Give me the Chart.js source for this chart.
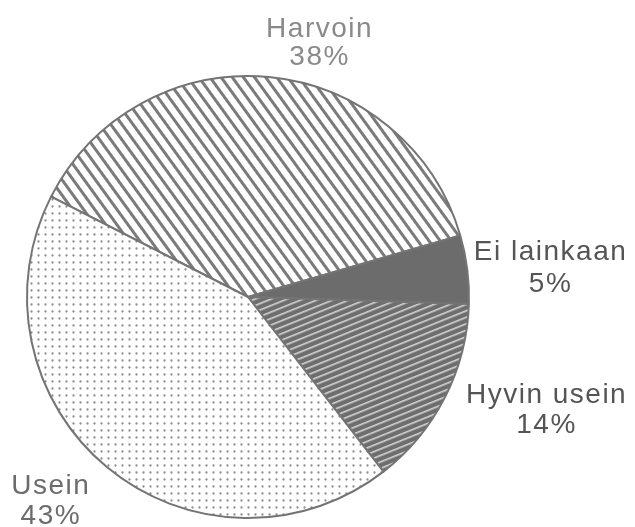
<!DOCTYPE html>
<html>
<head>
<meta charset="utf-8">
<script src="https://cdn.jsdelivr.net/npm/chart.js@4"></script>
<style>
html,body{margin:0;padding:0;background:#fff;}
canvas{display:block;}
</style>
</head>
<body>
<canvas id="c" width="635" height="527"></canvas>
<script>
// ---- data ----
const categories = ['Harvoin', 'Ei lainkaan', 'Hyvin usein', 'Usein'];
const values = [38, 5, 14, 43];
const percentLabels = ['38%', '5%', '14%', '43%'];

// ---- label layout (block centre relative to pie centre, in radius units) ----
const labelOffsets = [
  { dx: 0.324, dy: -1.150 },
  { dx: 1.369, dy: -0.131 },
  { dx: 1.351, dy: 0.514 },
  { dx: -0.892, dy: 0.923 }
];
const labelGaps = [14, 16, 15, 15];
const labelColors = ['#8a8a8a', '#555555', '#555555', '#6c6c6c'];

// ---- patterns ----
function stripePattern(bg, fg, period, lineW, angleDeg) {
  const t = document.createElement('canvas');
  t.width = 16; t.height = period;
  const g = t.getContext('2d');
  g.fillStyle = bg; g.fillRect(0, 0, t.width, t.height);
  g.fillStyle = fg; g.fillRect(0, 0, t.width, lineW);
  const p = document.getElementById('c').getContext('2d').createPattern(t, 'repeat');
  const a = angleDeg * Math.PI / 180;
  p.setTransform(new DOMMatrix([Math.cos(a), Math.sin(a), -Math.sin(a), Math.cos(a), 0, 0]));
  return p;
}
function dotPattern(bg, fg, step, size) {
  const t = document.createElement('canvas');
  t.width = step; t.height = step;
  const g = t.getContext('2d');
  g.fillStyle = bg; g.fillRect(0, 0, step, step);
  g.fillStyle = fg;
  g.beginPath(); g.arc(step / 2, step / 2, size, 0, Math.PI * 2); g.fill();
  return document.getElementById('c').getContext('2d').createPattern(t, 'repeat');
}

const fills = [
  stripePattern('#ffffff', '#7a7a7a', 9, 3, 54),
  '#6c6c6c',
  stripePattern('#6e6e6e', '#d4d4d4', 6, 1.6, -22),
  dotPattern('#ffffff', '#8c8c8c', 7, 1.15)
];

const labelPlugin = {
  id: 'sliceLabels',
  afterDraw(chart) {
    const arc = chart.getDatasetMeta(0).data[0];
    const cx = arc.x, cy = arc.y, r = arc.outerRadius;
    const ctx = chart.ctx;
    ctx.save();
    ctx.font = '28px "Liberation Sans", Arial, sans-serif';
    ctx.textAlign = 'center';
    ctx.textBaseline = 'middle';
    if ('letterSpacing' in ctx) ctx.letterSpacing = '1.5px';
    categories.forEach((cat, i) => {
      const x = cx + labelOffsets[i].dx * r;
      const y = cy + labelOffsets[i].dy * r;
      ctx.fillStyle = labelColors[i];
      ctx.fillText(cat, x, y - labelGaps[i]);
      ctx.fillText(percentLabels[i], x, y + labelGaps[i]);
    });
    ctx.restore();
  }
};

new Chart(document.getElementById('c'), {
  type: 'pie',
  data: {
    labels: categories,
    datasets: [{
      data: values,
      backgroundColor: fills,
      borderColor: '#747474',
      borderWidth: 2
    }]
  },
  options: {
    responsive: false,
    animation: false,
    rotation: 297,
    layout: { padding: { left: 26, right: 165, top: 75, bottom: 8 } },
    plugins: {
      legend: { display: false },
      tooltip: { enabled: false }
    }
  },
  plugins: [labelPlugin]
});
</script>
</body>
</html>
